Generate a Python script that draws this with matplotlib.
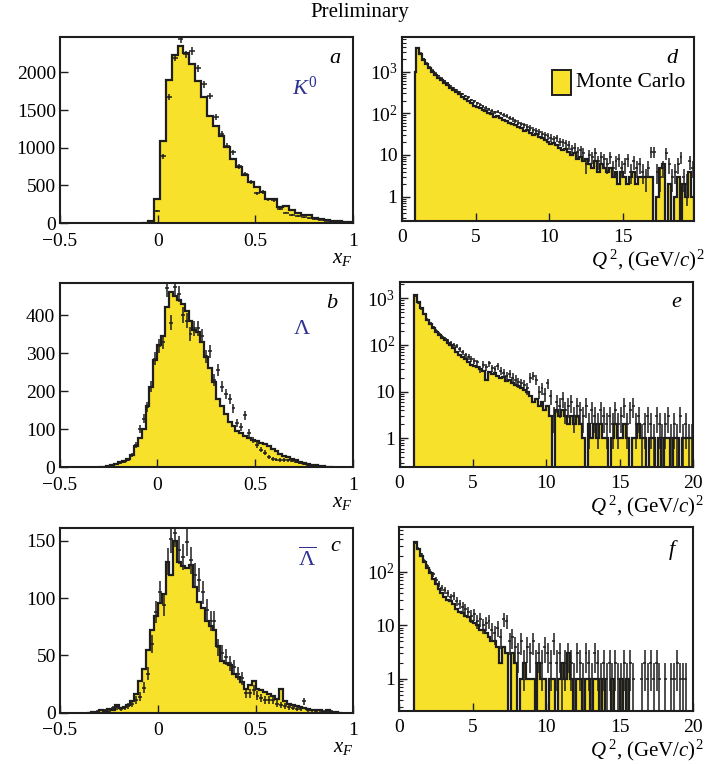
import numpy as np
import matplotlib
matplotlib.use('Agg')
import matplotlib.pyplot as plt
from matplotlib.patches import Rectangle
from matplotlib.ticker import LogLocator, NullFormatter, FixedLocator
from matplotlib.transforms import ScaledTranslation

plt.rcParams['font.family'] = ['Liberation Serif', 'DejaVu Serif']
plt.rcParams['mathtext.fontset'] = 'custom'
plt.rcParams['mathtext.rm'] = 'Liberation Serif'
plt.rcParams['mathtext.it'] = 'Liberation Serif:italic'
plt.rcParams['mathtext.bf'] = 'Liberation Serif:bold'

# ---------------- data ----------------
# panel a: K0, xF, bins of 0.03 starting at -0.078
a_mc = [5, 30, 316, 1093, 1898, 2231, 2351, 2262, 2116, 1884, 1676, 1418, 1293, 1151,
        1009, 853, 738, 640, 551, 476, 409, 320, 318, 209, 227, 173, 129, 107, 105, 67,
        52, 45, 31, 25, 17, 8]
a_data = [164, 884, 1671, 2196, 2445, 2240, 2284, 2053, 1840, 1684, 1405, 1182, 1027, 940,
          751, 648, 545, 393, 412, 316, 300, 183, 138, 107, 92, 76, 62, 49, 40, 31, 24,
          17, 10, 5]

# panel b: Lambda, xF, bins of 0.02 starting at -0.30
b_mc = [1, 2, 4, 6, 9, 13, 17, 22, 32, 55,
        78, 100, 160, 212, 282, 321, 345, 420, 460, 450,
        440, 430, 410, 385, 362, 355, 330, 290, 262, 225,
        180, 160, 140, 118, 108, 95, 90, 82, 78, 72,
        68, 64, 60, 57, 48, 42, 36, 31, 27, 22,
        18, 15, 12, 9, 7, 5, 4, 3, 2, 1]
b_data = [1, 2, 3, 5, 8, 12, 15, 20, 32, 58,
          100, 128, 159, 212, 285, 318, 330, 470, 380, 475,
          455, 400, 385, 350, 365, 365, 345, 292, 305, 230,
          256, 212, 192, 180, 155, 116, 107, 137, 90, 72,
          59, 46, 38, 28, 22, 20, 19, 19, 18, 17,
          14, 11, 9, 6, 5, 4, 3, 2, 1, 1]

# panel c: anti-Lambda, xF, bins of 0.02 starting at -0.36
c_mc = [0, 1, 1, 2, 1, 3, 2, 7, 4, 5,
        7, 10, 16, 28, 38, 55, 72, 84, 96, 104,
        132, 120, 150, 132, 128, 126, 129, 110, 97, 91,
        80, 76, 72, 58, 45, 43, 42, 34, 31, 27,
        21, 24, 28, 21, 20, 18, 16, 15, 12, 21,
        10, 8, 7, 6, 5, 4, 3, 2, 2, 2,
        1, 2, 1, 1, 0]
c_data = [0, 0, 1, 0, 2, 1, 4, 5, 3, 4,
          6, 8, 11, 14, 22, 34, 60, 88, 105, 94,
          132, 152, 157, 142, 136, 149, 133, 120, 116, 105,
          90, 80, 80, 57, 52, 49, 43, 40, 34, 30,
          17, 17, 20, 15, 13, 11, 11, 11, 8, 7,
          6, 5, 4, 3, 3, 10, 2, 2, 1, 2,
          1, 1, 1, 0, 0]

# panel d: K0, Q2; first bin 0.9-1.0 then bins of 0.2
d_mc = [1000, 3600, 2700, 1950, 1500, 1200, 1000, 840, 720, 620, 540,
        470, 410, 360, 320, 285, 250, 225, 200, 180, 150,
        145, 135, 120, 112, 100, 95, 80, 84, 78, 70,
        66, 60, 56, 52, 48, 44, 38, 40, 34, 30,
        31, 27, 25, 23, 21, 18, 19, 17, 15, 13,
        14, 12, 10, 11, 8, 9, 7, 8, 6, 5,
        7, 4, 6, 5, 4, 5, 3, 4, 2, 4,
        3, 2, 3, 4, 2, 3, 3, 3, 3, 3,
        0, 1, 5, 6, 0, 2, 0, 1, 3, 0,
        2, 1, 4, 1]
d_data = [3700, 2800, 2050, 1600, 1280, 1080, 920, 800, 690, 600,
          530, 460, 410, 370, 330, 295, 265, 240, 210, 195,
          175, 160, 150, 135, 125, 115, 105, 110, 100, 90,
          85, 78, 72, 66, 60, 56, 52, 48, 45, 40,
          38, 36, 32, 30, 28, 26, 24, 25, 21, 20,
          19, 17, 14, 15, 12, 13, 11, 6, 10, 9,
          11, 7, 9, 8, 6, 9, 5, 7, 8, 5,
          6, 8, 4, 7, 5, 6, 4, 3, 5, 12,
          12, 4, 3, 5, 11, 6, 3, 4, 6, 9,
          3, 2, 7, 5]

# panel e: Lambda, Q2, bins of 0.2 from 1.0
e_mc = [1170, 850, 620, 450, 340, 280, 225, 190, 160, 140,
        125, 108, 100, 85, 72, 62, 55, 50, 44, 38,
        36, 33, 30, 28, 18, 26, 24, 25, 22, 20,
        21, 17, 18, 15, 14, 13, 12, 11, 10, 8,
        6, 7, 5, 6, 4, 5, 3, 0, 4, 3,
        4, 3, 2, 3, 2, 3, 2, 1, 0, 2,
        1, 2, 1, 2, 1, 1, 0, 1, 2, 1,
        1, 2, 1, 0, 1, 1, 2, 1, 1, 0,
        1, 1, 0, 1, 0, 1, 1, 0, 1, 1,
        0, 1, 1, 1, 1]
e_data = [1100, 800, 600, 450, 350, 290, 240, 200, 175, 150,
          135, 120, 110, 100, 95, 80, 70, 60, 55, 50,
          46, 42, 30, 38, 34, 40, 32, 30, 35, 28,
          25, 22, 24, 20, 18, 16, 15, 14, 12, 20,
          22, 18, 10, 12, 9, 15, 8, 3, 6, 5,
          7, 4, 5, 6, 3, 5, 4, 3, 5, 2,
          4, 3, 2, 4, 3, 2, 3, 2, 4, 2,
          3, 5, 2, 4, 5, 2, 3, 1, 2, 3,
          2, 1, 3, 2, 1, 2, 3, 1, 2, 1,
          3, 1, 2, 1, 1]

# panel f: anti-Lambda, Q2, bins of 0.2 from 1.0
f_mc = [360, 260, 200, 150, 115, 95, 72, 60, 48, 40,
        34, 30, 28, 25, 20, 18, 17, 15, 14, 12,
        11, 10, 8, 8, 7, 6, 5, 5, 4, 2,
        4, 3, 0, 3, 2, 0, 1, 2, 1, 1,
        1, 0, 2, 1, 1, 0, 1, 1, 0, 1,
        2, 1, 3, 1, 0, 1, 1, 0, 1, 1,
        0, 1, 1, 0, 1, 0, 0, 1, 0, 0,
        1, 0, 1, 0, 0, 0, 0, 0, 0, 0,
        0, 0, 0, 0, 0, 0, 0, 0, 0, 0,
        0, 0, 0, 0, 0]
f_data = [340, 270, 210, 160, 130, 100, 90, 70, 60, 50,
          45, 40, 33, 35, 28, 25, 22, 20, 18, 15,
          16, 12, 13, 10, 11, 12, 8, 7, 9, 6,
          13, 12, 5, 6, 4, 3, 5, 2, 4, 3,
          5, 2, 3, 2, 4, 3, 2, 5, 2, 3,
          1, 2, 3, 2, 1, 3, 2, 1, 3, 2,
          1, 3, 2, 1, 2, 1, 2, 1, 2, 1,
          1, 2, 1, 2, 1, 0, 0, 1, 2, 1,
          2, 1, 2, 1, 0, 1, 0, 1, 1, 2,
          1, 1, 1, 0, 0]

xf_ticks = [-0.5, 0, 0.5, 1]
xf_ticklabels = ['\u22120.5', '0', '0.5', '1']

# ---------------- style ----------------
YELLOW = '#f7e12b'
LINE = '#1e1e1e'
BLUE = '#2e3192'
TICK_FS = 14

W, H = 705, 764
fig = plt.figure(figsize=(W / 100, H / 100), dpi=100)


def add_axes(left, right, top, bottom):
    return fig.add_axes([left / W, 1 - bottom / H, (right - left) / W, (bottom - top) / H])


def style(ax):
    for s in ax.spines.values():
        s.set_linewidth(1.5)
        s.set_color(LINE)
    ax.tick_params(which='both', direction='in', top=False, right=False,
                   labelsize=TICK_FS, colors=LINE, labelcolor='black')
    ax.tick_params(which='major', length=6, width=1.0)
    ax.tick_params(axis='y', which='major', pad=3)
    ax.tick_params(axis='x', which='major', pad=7)
    ax.tick_params(which='minor', length=3, width=0.8)


def draw_hist(ax, edges, mc, log=False):
    vals = np.asarray(mc, float)
    base = 0.0
    if log:
        base = 1e-3
        vals = np.where(vals > 0, vals, base)
    ax.stairs(vals, edges, fill=True, color=YELLOW, baseline=base, lw=0)
    ax.stairs(vals, edges, color=LINE, lw=1.6, baseline=base)


def draw_data(ax, x, n, half, log=False):
    x = np.asarray(x, float)
    n = np.asarray(n, float)
    m = n > 0
    err = np.sqrt(n)
    lower = np.minimum(err, n - 1e-3) if log else err
    ax.errorbar(x[m], n[m], xerr=half, yerr=[lower[m], err[m]], fmt='none',
                ecolor=LINE, elinewidth=1.1, capsize=0)


def left_panel(ax, edges, mc, xd, data, half, ylim, yticks, letter, label, lab_pos):
    draw_hist(ax, edges, mc)
    draw_data(ax, xd, data, half)
    ax.set_xlim(-0.5, 1.0)
    ax.set_ylim(*ylim)
    ax.set_xticks(xf_ticks)
    ax.set_xticklabels(xf_ticklabels)
    ax.set_yticks(yticks)
    ylabels = ax.set_yticklabels([str(t) for t in yticks])
    # lift the "0" label a little so it clears the x tick label below it
    ylabels[0].set_transform(ylabels[0].get_transform() +
                             ScaledTranslation(0, 3 / 72, fig.dpi_scale_trans))
    style(ax)
    ax.text(letter[0], letter[1], letter[2], transform=ax.transAxes, fontsize=16,
            style='italic', ha='center', va='center')
    ax.text(lab_pos[0], lab_pos[1], label, transform=ax.transAxes, fontsize=16,
            color=BLUE, ha='center', va='center')
    ax.text(0.965, -0.19, '$x_F$', transform=ax.transAxes, fontsize=15,
            ha='center', va='center')


def right_panel(ax, edges, mc, xd, data, xlim, ylim, yticks, yticklabels, letter):
    draw_hist(ax, edges, mc, log=True)
    draw_data(ax, xd, data, 0.1, log=True)
    ax.set_yscale('log')
    ax.set_xlim(*xlim)
    ax.set_ylim(*ylim)
    xt = [t for t in [0, 5, 10, 15, 20] if t <= xlim[1] + 1e-9]
    ax.set_xticks(xt)
    ax.set_xticklabels([str(t) for t in xt])
    ax.yaxis.set_major_locator(FixedLocator(yticks))
    ax.set_yticklabels(yticklabels)
    ax.yaxis.set_minor_locator(LogLocator(base=10, subs=np.arange(2, 10)))
    ax.yaxis.set_minor_formatter(NullFormatter())
    style(ax)
    ax.tick_params(axis='x', which='major', pad=6)
    ax.text(letter[0], letter[1], letter[2], transform=ax.transAxes, fontsize=16,
            style='italic', ha='center', va='center')
    ax.text(1.035, -0.215, '$Q^{\\,2}$, (GeV/$c$)$^2$', transform=ax.transAxes,
            fontsize=15, ha='right', va='center')


# ---- panel a
ax_a = add_axes(60, 353, 37, 223)
a_edges = -0.078 + 0.03 * np.arange(len(a_mc) + 1)
a_x = -0.003 + 0.03 * np.arange(len(a_data))
left_panel(ax_a, a_edges, a_mc, a_x, a_data, 0.015, (0, 2470),
           [0, 500, 1000, 1500, 2000], (0.939, 0.885, 'a'), '$K^0$', (0.836, 0.726))

# ---- panel b
ax_b = add_axes(59.5, 352.7, 282.7, 467.3)
b_edges = -0.30 + 0.02 * np.arange(len(b_mc) + 1)
b_x = -0.29 + 0.02 * np.arange(len(b_data))
left_panel(ax_b, b_edges, b_mc, b_x, b_data, 0.01, (0, 485),
           [0, 100, 200, 300, 400], (0.93, 0.89, 'b'), '\u039b', (0.827, 0.744))

# ---- panel c
ax_c = add_axes(60, 353.3, 528.3, 712.7)
c_edges = -0.36 + 0.02 * np.arange(len(c_mc) + 1)
c_x = -0.35 + 0.02 * np.arange(len(c_data))
left_panel(ax_c, c_edges, c_mc, c_x, c_data, 0.01, (0, 161),
           [0, 50, 100, 150], (0.937, 0.899, 'c'), '$\\overline{\\mathrm{\\Lambda}}$',
           (0.841, 0.83))

# ---- panel d
ax_d = add_axes(401.7, 694.3, 36.7, 221)
d_edges = np.r_[0.9, 1.0 + 0.2 * np.arange(len(d_mc))]
d_x = 1.1 + 0.2 * np.arange(len(d_data))
right_panel(ax_d, d_edges, d_mc, d_x, d_data, (0, 19.8), (0.26, 6900),
            [1, 10, 100, 1000], ['1', '10', '$10^2$', '$10^3$'], (0.923, 0.884, 'd'))
ax_d.add_patch(Rectangle((0.513, 0.684), 0.065, 0.136, transform=ax_d.transAxes,
                         facecolor=YELLOW, edgecolor=LINE, lw=1.4))
ax_d.text(0.596, 0.754, 'Monte Carlo', transform=ax_d.transAxes, fontsize=15.5,
          ha='left', va='center')

# ---- panel e
ax_e = add_axes(399.5, 693.3, 282.3, 466.7)
e_edges = 1.0 + 0.2 * np.arange(len(e_mc) + 1)
e_x = 1.1 + 0.2 * np.arange(len(e_data))
right_panel(ax_e, e_edges, e_mc, e_x, e_data, (0, 20), (0.245, 2200),
            [1, 10, 100, 1000], ['1', '10', '$10^2$', '$10^3$'], (0.943, 0.888, 'e'))

# ---- panel f
ax_f = add_axes(399.3, 693.3, 526.7, 711)
f_edges = 1.0 + 0.2 * np.arange(len(f_mc) + 1)
f_x = 1.1 + 0.2 * np.arange(len(f_data))
right_panel(ax_f, f_edges, f_mc, f_x, f_data, (0, 20), (0.25, 690),
            [1, 10, 100], ['1', '10', '$10^2$'], (0.927, 0.874, 'f'))

fig.text(0.51, 1 - 12 / H, 'Preliminary', ha='center', va='center', fontsize=15)

fig.savefig('out.png', dpi=100)
